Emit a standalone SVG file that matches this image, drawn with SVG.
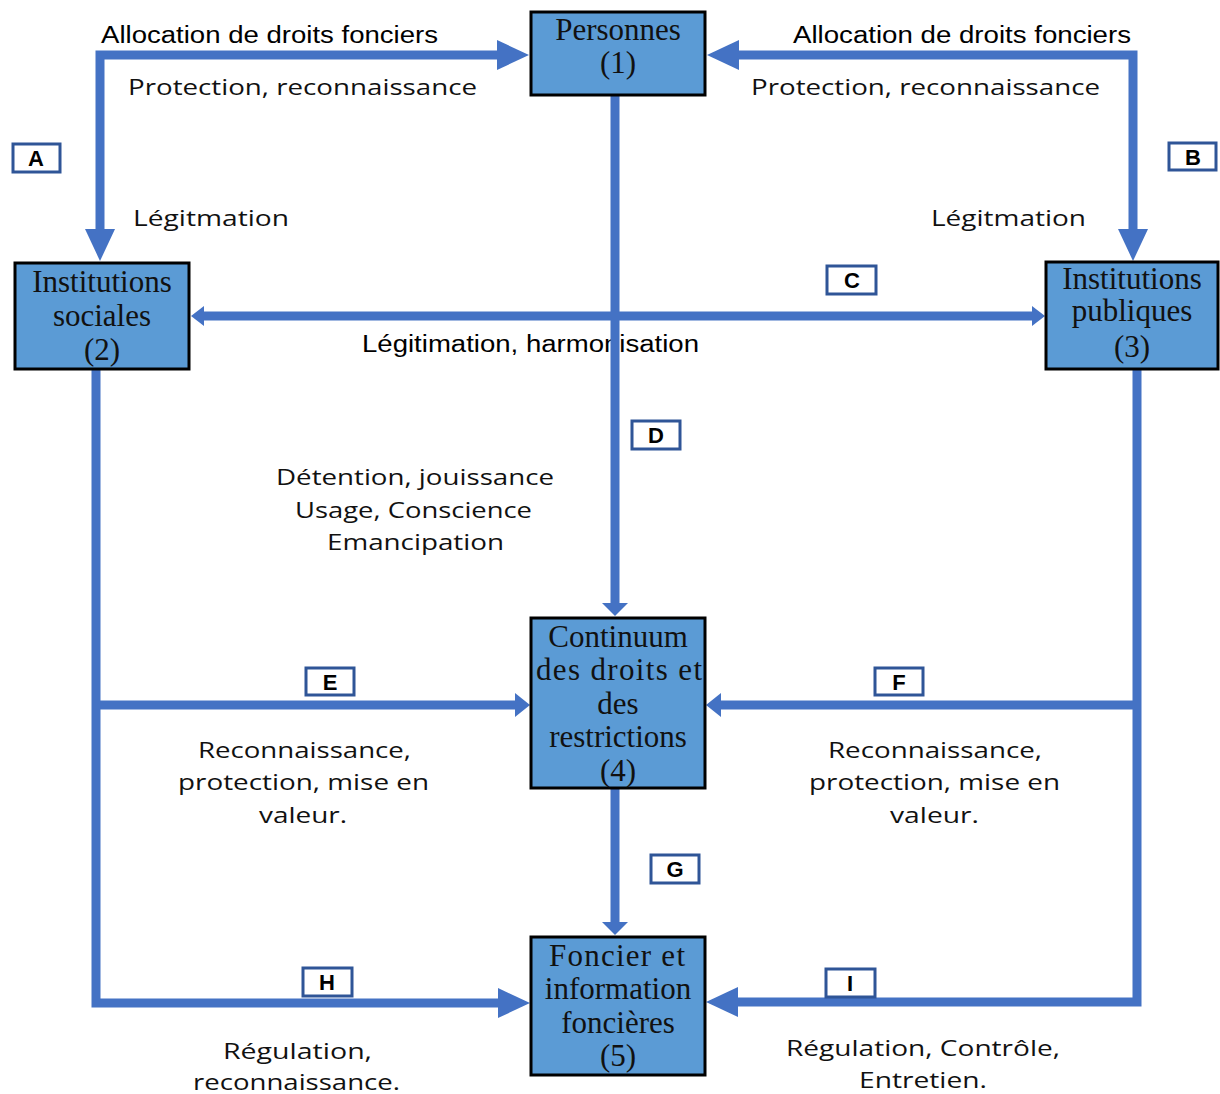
<svg xmlns="http://www.w3.org/2000/svg" width="1220" height="1094" viewBox="0 0 1220 1094">
<style>
.node rect{fill:#5B9BD5;stroke:#000;stroke-width:3}
.node text{font-family:"Liberation Serif","Times New Roman",serif;font-size:31px;fill:#111;text-anchor:middle}
.conn{fill:none;stroke:#4472C4;stroke-width:9;stroke-linejoin:miter}
.ar{font-family:"Liberation Sans",Arial,sans-serif;font-size:23px;fill:#000}
.ca{font-family:"Open Sans","Noto Sans",sans-serif;font-size:22px;fill:#111}
.tag rect{fill:#fff;stroke:#2F5597;stroke-width:3}
.tag text{font-family:"Liberation Sans",Arial,sans-serif;font-size:22px;font-weight:bold;fill:#000;text-anchor:middle}
</style>
<defs>
<marker id="big" markerUnits="userSpaceOnUse" viewBox="0 -15 32 30" markerWidth="32" markerHeight="30" refX="1" refY="0" orient="auto-start-reverse"><path d="M0,-15 L32,0 L0,15 z" fill="#4472C4"/></marker>
<marker id="sm" markerUnits="userSpaceOnUse" viewBox="0 -12 15 24" markerWidth="15" markerHeight="24" refX="1" refY="0" orient="auto-start-reverse"><path d="M0,-12 L15,0 L0,12 z" fill="#4472C4"/></marker>
<marker id="smc" markerUnits="userSpaceOnUse" viewBox="0 -10 13 20" markerWidth="13" markerHeight="20" refX="1" refY="0" orient="auto-start-reverse"><path d="M0,-10 L13,0 L0,10 z" fill="#4472C4"/></marker>
<marker id="dn" markerUnits="userSpaceOnUse" viewBox="0 -13 13 26" markerWidth="13" markerHeight="26" refX="1" refY="0" orient="auto-start-reverse"><path d="M0,-13 L13,0 L0,13 z" fill="#4472C4"/></marker>
</defs>
<rect width="1220" height="1094" fill="#fff"/>
<g id="labels">
<text class="ar" x="101" y="43" textLength="337" lengthAdjust="spacingAndGlyphs">Allocation de droits fonciers</text>
<text class="ar" x="793" y="43" textLength="338" lengthAdjust="spacingAndGlyphs">Allocation de droits fonciers</text>
<text class="ca" x="128" y="95" textLength="349" lengthAdjust="spacingAndGlyphs">Protection, reconnaissance</text>
<text class="ca" x="751" y="95" textLength="349" lengthAdjust="spacingAndGlyphs">Protection, reconnaissance</text>
<text class="ca" x="133" y="226" textLength="156" lengthAdjust="spacingAndGlyphs">Légitmation</text>
<text class="ca" x="931" y="226" textLength="155" lengthAdjust="spacingAndGlyphs">Légitmation</text>
<text class="ar" x="362" y="352" font-size="21" textLength="337" lengthAdjust="spacingAndGlyphs">Légitimation, harmonisation</text>
<text class="ca" x="276" y="485" textLength="278" lengthAdjust="spacingAndGlyphs">Détention, jouissance</text>
<text class="ca" x="295" y="518" textLength="237" lengthAdjust="spacingAndGlyphs">Usage, Conscience</text>
<text class="ca" x="327" y="550" textLength="177" lengthAdjust="spacingAndGlyphs">Emancipation</text>
<text class="ca" x="198" y="758" textLength="213" lengthAdjust="spacingAndGlyphs">Reconnaissance,</text>
<text class="ca" x="178" y="790" textLength="251" lengthAdjust="spacingAndGlyphs">protection, mise en</text>
<text class="ca" x="259" y="823" textLength="88" lengthAdjust="spacingAndGlyphs">valeur.</text>
<text class="ca" x="828" y="758" textLength="214" lengthAdjust="spacingAndGlyphs">Reconnaissance,</text>
<text class="ca" x="809" y="790" textLength="251" lengthAdjust="spacingAndGlyphs">protection, mise en</text>
<text class="ca" x="890" y="823" textLength="89" lengthAdjust="spacingAndGlyphs">valeur.</text>
<text class="ca" x="223" y="1059" textLength="149" lengthAdjust="spacingAndGlyphs">Régulation,</text>
<text class="ca" x="193" y="1090" textLength="207" lengthAdjust="spacingAndGlyphs">reconnaissance.</text>
<text class="ca" x="786" y="1056" textLength="274" lengthAdjust="spacingAndGlyphs">Régulation, Contrôle,</text>
<text class="ca" x="859" y="1088" textLength="128" lengthAdjust="spacingAndGlyphs">Entretien.</text>
</g>
<g id="connectors">
<path class="conn" d="M100,230 L100,55 L498,55" marker-start="url(#big)" marker-end="url(#big)"/>
<path class="conn" d="M1133,230 L1133,55 L738,55" marker-start="url(#big)" marker-end="url(#big)"/>
<path class="conn" d="M203,316 L1033,316" marker-start="url(#smc)" marker-end="url(#smc)"/>
<path class="conn" d="M615,96 L615,604" marker-end="url(#dn)"/>
<path class="conn" d="M615,789 L615,923" marker-end="url(#dn)"/>
<path class="conn" d="M96,369 L96,1003 L499,1003" marker-end="url(#big)"/>
<path class="conn" d="M96,705 L516,705" marker-end="url(#sm)"/>
<path class="conn" d="M1137,369 L1137,1002 L737,1002" marker-end="url(#big)"/>
<path class="conn" d="M1141,705 L720,705" marker-end="url(#sm)"/>
</g>
<g id="n1" class="node"><rect x="531" y="12" width="174" height="83"/><text x="618" y="40">Personnes</text><text x="618" y="73">(1)</text></g>
<g id="n2" class="node"><rect x="15" y="263" width="174" height="106"/><text x="102" y="292">Institutions</text><text x="102" y="326">sociales</text><text x="102" y="360">(2)</text></g>
<g id="n3" class="node"><rect x="1046" y="262" width="172" height="107"/><text x="1132" y="289">Institutions</text><text x="1132" y="321">publiques</text><text x="1132" y="357">(3)</text></g>
<g id="n4" class="node"><rect x="531" y="618" width="174" height="170"/><text x="618" y="647">Continuum</text><text x="619" y="680" textLength="166" lengthAdjust="spacing">des droits  et</text><text x="618" y="714">des</text><text x="618" y="747">restrictions</text><text x="618" y="781">(4)</text></g>
<g id="n5" class="node"><rect x="531" y="937" width="174" height="138"/><text x="617" y="966" textLength="136" lengthAdjust="spacing">Foncier  et</text><text x="618" y="999">information</text><text x="618" y="1033">foncières</text><text x="618" y="1066">(5)</text></g>
<g id="tags">
<g id="tA" class="tag"><rect x="13" y="144" width="47" height="28"/><text x="36" y="166">A</text></g>
<g id="tB" class="tag"><rect x="1169" y="143" width="47" height="27"/><text x="1193" y="165">B</text></g>
<g id="tC" class="tag"><rect x="827" y="266" width="49" height="28"/><text x="852" y="288">C</text></g>
<g id="tD" class="tag"><rect x="632" y="421" width="48" height="28"/><text x="656" y="443">D</text></g>
<g id="tE" class="tag"><rect x="306" y="668" width="48" height="27"/><text x="330" y="690">E</text></g>
<g id="tF" class="tag"><rect x="875" y="668" width="48" height="27"/><text x="899" y="690">F</text></g>
<g id="tG" class="tag"><rect x="651" y="855" width="48" height="28"/><text x="675" y="877">G</text></g>
<g id="tH" class="tag"><rect x="303" y="968" width="49" height="28"/><text x="327" y="990">H</text></g>
<g id="tI" class="tag"><rect x="826" y="969" width="49" height="28"/><text x="850" y="991">I</text></g>
</g>
</svg>
